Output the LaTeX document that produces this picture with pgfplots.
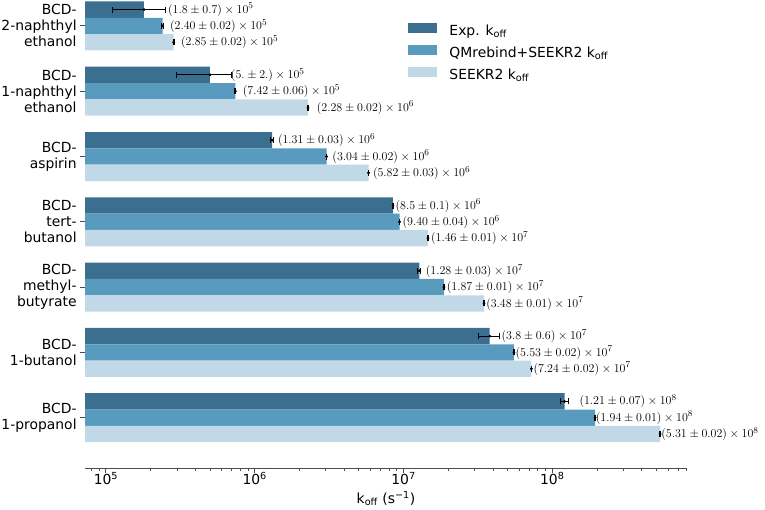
\documentclass[border=0pt]{standalone}
\usepackage[no-math]{fontspec}
\setmainfont{DejaVu Sans}
\usepackage{pgfplots}
\pgfplotsset{compat=1.18}
\definecolor{cA}{RGB}{59,111,143}
\definecolor{cB}{RGB}{88,155,190}
\definecolor{cC}{RGB}{193,217,231}
\newcommand\lab{\fontsize{13.9}{16}\selectfont}
\newcommand\ann{\fontsize{12.4}{14}\selectfont}
\begin{document}
\begin{tikzpicture}
\begin{axis}[
  at={(0pt,0pt)}, anchor=south west,
  scale only axis, width=602pt, height=468pt,
  xmode=log, log origin x=infty,
  xmin=7.23e4, xmax=8.05e8,
  ymin=-0.77, ymax=6.397,
  axis x line*=bottom, axis y line*=left,
  y axis line style={draw=none},
  x axis line style={black!70, line width=1pt},
  xtick={1e5,1e6,1e7,1e8},
  xticklabels={10\textsuperscript{5},10\textsuperscript{6},10\textsuperscript{7},10\textsuperscript{8}},
  minor xtick={8e4,9e4,2e5,3e5,4e5,5e5,6e5,7e5,8e5,9e5,2e6,3e6,4e6,5e6,6e6,7e6,8e6,9e6,2e7,3e7,4e7,5e7,6e7,7e7,8e7,9e7,2e8,3e8,4e8,5e8,6e8,7e8,8e8},
  ytick={0,1,2,3,4,5,6},
  yticklabels={{BCD-\\1-propanol},{BCD-\\1-butanol},{BCD-\\methyl-\\butyrate},{BCD-\\tert-\\butanol},{BCD-\\aspirin},{BCD-\\1-naphthyl\\ethanol},{BCD-\\2-naphthyl\\ethanol}},
  yticklabel style={align=right, font=\lab},
  xticklabel style={font=\lab, yshift=4pt},
  tick align=outside,
  major tick length=4.9pt, minor tick length=2.8pt,
  every tick/.style={black!70, line width=1pt},
  minor tick style={line width=0.8pt},
  xlabel={k\textsubscript{off} (s\textsuperscript{−1})},
  xlabel style={font=\lab, yshift=1pt},
  clip mode=individual,
  legend style={at={(0.532,0.955)}, anchor=north west, draw=none, fill=none, font=\lab,
    row sep=6pt, nodes={inner sep=0pt, text height=11pt, text depth=4pt}},
  legend cell align=left,
]
\addplot[xbar, bar width=0.25, bar shift=0pt, fill=cA, draw=none,
  legend image code/.code={\fill[cA] (0pt,-1.5pt) rectangle (29pt,8.5pt); \path (41pt,0pt);}]
  coordinates {(1.8e5,6.25) (5e5,5.25) (1.31e6,4.25) (8.5e6,3.25) (1.28e7,2.25) (3.8e7,1.25) (1.21e8,0.25)};
\addlegendentry{Exp. k\textsubscript{off}}
\addplot[xbar, bar width=0.25, bar shift=0pt, fill=cB, draw=none,
  legend image code/.code={\fill[cB] (0pt,-1.5pt) rectangle (29pt,8.5pt); \path (41pt,0pt);}]
  coordinates {(2.40e5,6) (7.42e5,5) (3.04e6,4) (9.40e6,3) (1.87e7,2) (5.53e7,1) (1.94e8,0)};
\addlegendentry{QMrebind+SEEKR2 k\textsubscript{off}}
\addplot[xbar, bar width=0.25, bar shift=0pt, fill=cC, draw=none,
  legend image code/.code={\fill[cC] (0pt,-1.5pt) rectangle (29pt,8.5pt); \path (41pt,0pt);}]
  coordinates {(2.85e5,5.75) (2.28e6,4.75) (5.82e6,3.75) (1.46e7,2.75) (3.48e7,1.75) (7.24e7,0.75) (5.31e8,-0.25)};
\addlegendentry{SEEKR2 k\textsubscript{off}}

\pgfplotsset{errstyle/.style={only marks, mark=*, mark size=1.2pt, black, forget plot,
  error bars/.cd, x dir=both, x explicit,
  error bar style={line width=1pt, black},
  error mark=|,
  error mark options={black, line width=1pt, mark size=3pt}}}
\addplot[errstyle] coordinates {(1.8e5,6.25) +- (0.7e5,0) (5e5,5.25) +- (2e5,0) (1.31e6,4.25) +- (0.03e6,0) (8.5e6,3.25) +- (0.1e6,0) (1.28e7,2.25) +- (0.03e7,0) (3.8e7,1.25) +- (0.6e7,0) (1.21e8,0.25) +- (0.07e8,0)};
\addplot[errstyle] coordinates {(2.40e5,6) +- (0.02e5,0) (7.42e5,5) +- (0.06e5,0) (3.04e6,4) +- (0.02e6,0) (9.40e6,3) +- (0.04e6,0) (1.87e7,2) +- (0.01e7,0) (5.53e7,1) +- (0.02e7,0) (1.94e8,0) +- (0.01e8,0)};
\addplot[errstyle] coordinates {(2.85e5,5.75) +- (0.02e5,0) (2.28e6,4.75) +- (0.02e6,0) (5.82e6,3.75) +- (0.03e6,0) (1.46e7,2.75) +- (0.01e7,0) (3.48e7,1.75) +- (0.01e7,0) (7.24e7,0.75) +- (0.02e7,0) (5.31e8,-0.25) +- (0.02e8,0)};

\tikzset{anno/.style={anchor=west, inner sep=0pt, font=\ann}}
\node[anno] at (axis cs:2.61e5,6.25) {$(1.8\pm0.7)\times10^{5}$};
\node[anno] at (axis cs:2.69e5,6) {$(2.40\pm0.02)\times10^{5}$};
\node[anno] at (axis cs:3.19e5,5.75) {$(2.85\pm0.02)\times10^{5}$};
\node[anno] at (axis cs:6.90e5,5.25) {$(5.\pm2.)\times10^{5}$};
\node[anno] at (axis cs:8.30e5,5) {$(7.42\pm0.06)\times10^{5}$};
\node[anno] at (axis cs:2.61e6,4.75) {$(2.28\pm0.02)\times10^{6}$};
\node[anno] at (axis cs:1.43e6,4.25) {$(1.31\pm0.03)\times10^{6}$};
\node[anno] at (axis cs:3.32e6,4) {$(3.04\pm0.02)\times10^{6}$};
\node[anno] at (axis cs:6.22e6,3.75) {$(5.82\pm0.03)\times10^{6}$};
\node[anno] at (axis cs:8.83e6,3.25) {$(8.5\pm0.1)\times10^{6}$};
\node[anno] at (axis cs:9.84e6,3) {$(9.40\pm0.04)\times10^{6}$};
\node[anno] at (axis cs:1.53e7,2.75) {$(1.46\pm0.01)\times10^{7}$};
\node[anno] at (axis cs:1.41e7,2.25) {$(1.28\pm0.03)\times10^{7}$};
\node[anno] at (axis cs:1.95e7,2) {$(1.87\pm0.01)\times10^{7}$};
\node[anno] at (axis cs:3.59e7,1.75) {$(3.48\pm0.01)\times10^{7}$};
\node[anno] at (axis cs:4.55e7,1.25) {$(3.8\pm0.6)\times10^{7}$};
\node[anno] at (axis cs:5.65e7,1) {$(5.53\pm0.02)\times10^{7}$};
\node[anno] at (axis cs:7.46e7,0.75) {$(7.24\pm0.02)\times10^{7}$};
\node[anno] at (axis cs:1.52e8,0.25) {$(1.21\pm0.07)\times10^{8}$};
\node[anno] at (axis cs:1.96e8,0) {$(1.94\pm0.01)\times10^{8}$};
\node[anno] at (axis cs:5.40e8,-0.25) {$(5.31\pm0.02)\times10^{8}$};
\end{axis}
\pgfresetboundingbox
\useasboundingbox (-85pt,-41pt) rectangle (680pt,468pt);
\end{tikzpicture}
\end{document}
